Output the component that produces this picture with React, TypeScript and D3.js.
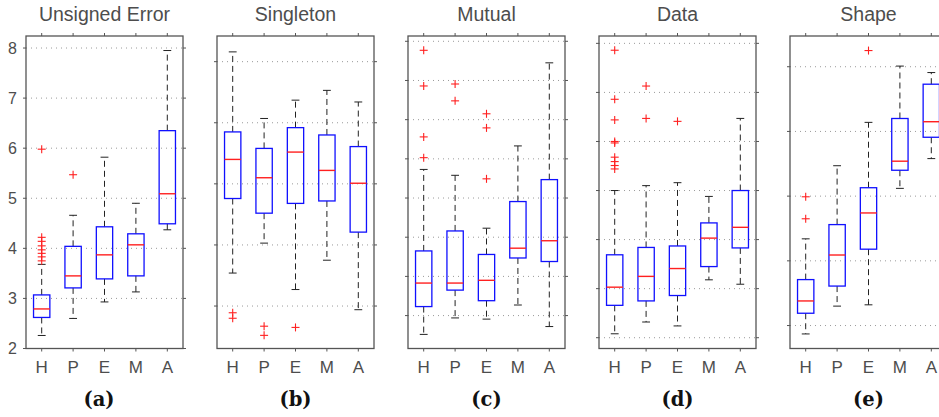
import React from 'react';
import * as d3 from 'd3';

const categories = ['H', 'P', 'E', 'M', 'A'];
const titles = ['Unsigned Error', 'Singleton', 'Mutual', 'Data', 'Shape'];
const subLabels = ['(a)', '(b)', '(c)', '(d)', '(e)'];

// box stats per method: [low whisker, q1, median, q3, high whisker]
const unsignedStats = [
  [2.26, 2.62, 2.79, 3.07, 3.68],
  [2.6, 3.21, 3.45, 4.04, 4.66],
  [2.93, 3.39, 3.87, 4.43, 5.82],
  [3.13, 3.45, 4.07, 4.29, 4.9],
  [4.37, 4.49, 5.09, 6.35, 7.95],
];
const unsignedOutliers = [
  [3.75, 3.83, 3.9, 3.97, 4.05, 4.14, 4.22, 5.98],
  [5.47],
  [],
  [],
  [],
];

const singletonStats = [
  [1.54, 2.76, 3.4, 3.85, 5.16],
  [2.03, 2.52, 3.1, 3.58, 4.07],
  [1.27, 2.68, 3.52, 3.92, 4.37],
  [1.75, 2.72, 3.22, 3.8, 4.53],
  [0.94, 2.21, 3.01, 3.61, 4.34],
];
const singletonOutliers = [[0.89, 0.8], [0.67, 0.52], [0.65], [], []];

const mutualStats = [
  [0.52, 1.23, 1.83, 2.65, 4.73],
  [0.94, 1.65, 1.83, 3.16, 4.58],
  [0.91, 1.38, 1.9, 2.56, 3.23],
  [1.27, 2.47, 2.72, 3.91, 5.33],
  [0.72, 2.38, 2.91, 4.47, 7.45],
];
const mutualOutliers = [
  [7.77, 6.86, 5.56, 5.03],
  [6.91, 6.48],
  [6.15, 5.79, 4.49],
  [],
  [],
];

const dataStats = [
  [1.08, 1.66, 2.03, 2.69, 4.0],
  [1.32, 1.75, 2.25, 2.84, 4.1],
  [1.24, 1.86, 2.41, 2.87, 4.16],
  [2.18, 2.45, 3.03, 3.34, 3.88],
  [2.09, 2.83, 3.25, 4.0, 5.47],
];
const dataOutliers = [
  [6.86, 5.86, 5.44, 5.0, 4.97, 4.68, 4.59, 4.51, 4.44],
  [6.13, 5.47],
  [5.41],
  [],
  [],
];

const shapeStats = [
  [0.87, 1.19, 1.38, 1.71, 2.34],
  [1.3, 1.61, 2.09, 2.56, 3.47],
  [1.32, 2.18, 2.74, 3.13, 4.14],
  [3.12, 3.4, 3.54, 4.2, 5.01],
  [3.58, 3.91, 4.15, 4.73, 4.91],
];
const shapeOutliers = [[2.99, 2.65], [], [5.25], [], []];

// y extents and gridline values of each panel
const yDomains = [
  [2, 8.24],
  [0.305, 5.42],
  [0.16, 8.135],
  [0.78, 7.15],
  [0.645, 5.475],
];
const gridValues = [
  [2, 3, 4, 5, 6, 7, 8],
  [1, 2, 3, 4, 5],
  [1, 2, 3, 4, 5, 6, 7, 8],
  [1, 2, 3, 4, 5, 6, 7],
  [1, 2, 3, 4, 5],
];
const yTickLabels = ['2', '3', '4', '5', '6', '7', '8'];

const allStats = [unsignedStats, singletonStats, mutualStats, dataStats, shapeStats];
const allOutliers = [unsignedOutliers, singletonOutliers, mutualOutliers, dataOutliers, shapeOutliers];

const W = 939;
const H = 417;
const top = 36;
const bottom = 348.5;
const panelW = 157;
const gap = 191;
const textColor = '#4d4d4d';
const sans = '"Liberation Sans", Arial, sans-serif';

const Panel = ({ i }: { i: number }) => {
  const left = 26 + i * gap;
  const right = left + panelW;
  const x = d3.scaleLinear().domain([0.5, 5.5]).range([left, right]);
  const y = d3.scaleLinear().domain(yDomains[i]).range([bottom, top]);
  const unit = x(2) - x(1);
  const bw = unit * 0.26;
  const cw = unit * 0.125;
  const stats = allStats[i];
  const outs = allOutliers[i];
  const cx = (left + right) / 2;

  return (
    <g>
      {/* grid */}
      {gridValues[i].map((v) => (
        <g key={v}>
          <line x1={left} x2={right} y1={y(v)} y2={y(v)} stroke="#9a9a9a" strokeWidth={1} strokeDasharray="1,4" />
          <line x1={left - 3} x2={left} y1={y(v)} y2={y(v)} stroke="#555" strokeWidth={1} />
          <line x1={right} x2={right + 3} y1={y(v)} y2={y(v)} stroke="#555" strokeWidth={1} />
        </g>
      ))}
      {categories.map((c, k) => (
        <g key={c}>
          <line x1={x(k + 1)} x2={x(k + 1)} y1={top - 3} y2={top} stroke="#555" strokeWidth={1} />
          <line x1={x(k + 1)} x2={x(k + 1)} y1={bottom} y2={bottom + 3} stroke="#555" strokeWidth={1} />
          <text x={x(k + 1)} y={373} textAnchor="middle" fontFamily={sans} fontSize={17} fill={textColor}>
            {c}
          </text>
        </g>
      ))}
      {/* boxes */}
      {stats.map((s, k) => {
        const px = x(k + 1);
        const [lo, q1, med, q3, hi] = s;
        return (
          <g key={k}>
            <line x1={px} x2={px} y1={y(q3)} y2={y(hi)} stroke="#222" strokeWidth={1} strokeDasharray="6,4" />
            <line x1={px} x2={px} y1={y(q1)} y2={y(lo)} stroke="#222" strokeWidth={1} strokeDasharray="6,4" />
            <line x1={px - cw} x2={px + cw} y1={y(hi)} y2={y(hi)} stroke="#222" strokeWidth={1} />
            <line x1={px - cw} x2={px + cw} y1={y(lo)} y2={y(lo)} stroke="#222" strokeWidth={1} />
            <rect x={px - bw} y={y(q3)} width={bw * 2} height={y(q1) - y(q3)} fill="none" stroke="#1010ff" strokeWidth={1.3} />
            <line x1={px - bw} x2={px + bw} y1={y(med)} y2={y(med)} stroke="#ff2020" strokeWidth={1.4} />
            {outs[k].map((o, j) => (
              <g key={j} stroke="#ff2020" strokeWidth={1.1}>
                <line x1={px - 4} x2={px + 4} y1={y(o)} y2={y(o)} />
                <line x1={px} x2={px} y1={y(o) - 4} y2={y(o) + 4} />
              </g>
            ))}
          </g>
        );
      })}
      <rect x={left} y={top} width={panelW} height={bottom - top} fill="none" stroke="#555" strokeWidth={1.3} />
      {i === 0 &&
        gridValues[0].map((v, k) => (
          <text key={v} x={left - 9} y={y(v)} dy="0.36em" textAnchor="end" fontFamily={sans} fontSize={16} fill={textColor}>
            {yTickLabels[k]}
          </text>
        ))}
      <text x={cx} y={21} textAnchor="middle" fontFamily={sans} fontSize={19.5} fill={textColor}>
        {titles[i]}
      </text>
      <text
        x={i === 0 ? 99 : cx}
        y={406}
        textAnchor="middle"
        fontFamily='"DejaVu Serif", serif'
        fontWeight="bold"
        fontSize={19.5}
        fill="#111"
      >
        {subLabels[i]}
      </text>
    </g>
  );
};

export default function App() {
  return (
    <svg width={W} height={H} style={{ position: 'absolute', left: 0, top: 0, background: '#fff' }}>
      <rect width={W} height={H} fill="#fff" />
      {titles.map((t, i) => (
        <Panel key={t} i={i} />
      ))}
    </svg>
  );
}
